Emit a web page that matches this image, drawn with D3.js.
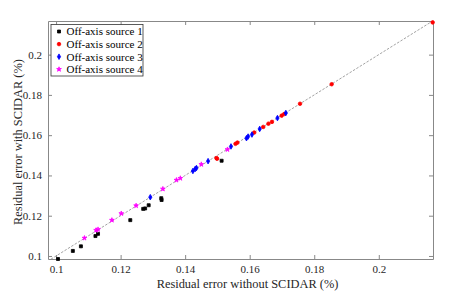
<!DOCTYPE html>
<html>
<head>
<meta charset="utf-8">
<script src="https://cdn.jsdelivr.net/npm/d3@7"></script>
<style>
  body { margin: 0; background: #fff; }
  text { font-family: 'Liberation Serif', 'DejaVu Serif', serif; }
</style>
</head>
<body>
<div id="chart"></div>
<script>
const seriesNames = ['Off-axis source 1', 'Off-axis source 2', 'Off-axis source 3', 'Off-axis source 4']
const seriesColors = ['#000000', '#ff0000', '#0000ff', '#ff00ff']

// [without SCIDAR, with SCIDAR]
const source1 = [
  [0.1006, 0.0985], [0.1052, 0.1025], [0.1077, 0.1048], [0.1122, 0.1099],
  [0.1130, 0.1110], [0.1230, 0.1178], [0.1270, 0.1234], [0.1276, 0.1236],
  [0.1287, 0.1252], [0.1326, 0.1287], [0.1327, 0.1278], [0.1513, 0.1473]
]
const source2 = [
  [0.1497, 0.1486], [0.1499, 0.1483], [0.1556, 0.1557], [0.1562, 0.1563],
  [0.1614, 0.1613], [0.1642, 0.1641], [0.1658, 0.1657], [0.1669, 0.1666],
  [0.1699, 0.1697], [0.1707, 0.1705], [0.1756, 0.1756], [0.1854, 0.1853],
  [0.2167, 0.2160]
]
const source3 = [
  [0.1292, 0.1292], [0.1424, 0.1422], [0.1431, 0.1432], [0.1435, 0.1437],
  [0.1471, 0.1471], [0.1542, 0.1544], [0.1590, 0.1585], [0.1595, 0.1593],
  [0.1607, 0.1603], [0.1631, 0.1631], [0.1686, 0.1685], [0.1712, 0.1710]
]
const source4 = [
  [0.1088, 0.1089], [0.1124, 0.1128], [0.1130, 0.1132], [0.1173, 0.1178],
  [0.1202, 0.1211], [0.1248, 0.1250], [0.1331, 0.1333], [0.1373, 0.1377],
  [0.1385, 0.1386], [0.1450, 0.1455], [0.1531, 0.1529]
]
const tickValues = [0.1, 0.12, 0.14, 0.16, 0.18, 0.2]
const xDomain = [0.0975, 0.2168]
const yDomain = [0.0985, 0.2167]

const margin = { top: 21, left: 48, right: 30, bottom: 34 }
const width = 463 - margin.left - margin.right
const height = 293 - margin.top - margin.bottom

const svg = d3.select('#chart')
  .append('svg')
  .attr('width', 463)
  .attr('height', 293)

const g = svg.append('g')
  .attr('transform', `translate(${margin.left},${margin.top})`)

const x = d3.scaleLinear().domain(xDomain).range([0, width])
const y = d3.scaleLinear().domain(yDomain).range([height, 0])

g.append('clipPath').attr('id', 'clip')
  .append('rect').attr('width', width).attr('height', height)

// y = x reference line
g.append('line')
  .attr('clip-path', 'url(#clip)')
  .attr('x1', x(0.09)).attr('y1', y(0.09))
  .attr('x2', x(0.23)).attr('y2', y(0.23))
  .attr('stroke', '#8a8a8a')
  .attr('stroke-width', 0.8)
  .attr('stroke-dasharray', '2.5,1.5')

const fmt = d => String(+d.toFixed(2))
const tickLen = 4
const axisColor = '#888'

function styleAxis(sel) {
  sel.select('.domain').attr('stroke', axisColor)
  sel.selectAll('.tick line').attr('stroke', axisColor)
  sel.selectAll('.tick text')
    .attr('fill', '#262626')
    .attr('font-size', 11)
    .style('font-family', "'Liberation Serif', serif")
}

g.append('g')
  .attr('transform', `translate(0,${height})`)
  .call(d3.axisBottom(x).tickValues(tickValues).tickFormat(fmt).tickSizeInner(-tickLen).tickSizeOuter(0).tickPadding(6))
  .call(styleAxis)
g.append('g')
  .call(d3.axisTop(x).tickValues(tickValues).tickFormat('').tickSizeInner(-tickLen).tickSizeOuter(0))
  .call(styleAxis)
g.append('g')
  .call(d3.axisLeft(y).tickValues(tickValues).tickFormat(fmt).tickSizeInner(-tickLen).tickSizeOuter(0).tickPadding(6))
  .call(styleAxis)
g.append('g')
  .attr('transform', `translate(${width},0)`)
  .call(d3.axisRight(y).tickValues(tickValues).tickFormat('').tickSizeInner(-tickLen).tickSizeOuter(0))
  .call(styleAxis)

const symbols = [
  d3.symbol().type(d3.symbolSquare).size(9),
  d3.symbol().type(d3.symbolCircle).size(10),
  d3.symbol().type(d3.symbolDiamond).size(9),
  d3.symbol().type(d3.symbolStar).size(7)
]
const allSeries = [source1, source2, source3, source4]

allSeries.forEach(function(data, i) {
  g.append('g')
    .selectAll('path')
    .data(data)
    .enter()
    .append('path')
    .attr('d', symbols[i])
    .attr('transform', d => `translate(${x(d[0])},${y(d[1])})`)
    .attr('fill', seriesColors[i])
    .attr('stroke', seriesColors[i])
    .attr('stroke-width', 0.8)
})

// axis labels
g.append('text')
  .attr('x', width / 2 + 7)
  .attr('y', height + 29)
  .attr('text-anchor', 'middle')
  .attr('font-size', 12.4)
  .attr('fill', '#262626')
  .text('Residual error without SCIDAR (%)')

g.append('text')
  .attr('transform', `translate(${22 - margin.left},${height / 2 + 2})rotate(-90)`)
  .attr('text-anchor', 'middle')
  .attr('font-size', 12.4)
  .attr('fill', '#262626')
  .text('Residual error with SCIDAR (%)')

// legend
const legend = g.append('g').attr('transform', 'translate(3,3.5)')
legend.append('rect')
  .attr('width', 92)
  .attr('height', 51.5)
  .attr('fill', '#fff')
  .attr('stroke', '#333')
  .attr('stroke-width', 0.8)

seriesNames.forEach(function(name, i) {
  const row = legend.append('g').attr('transform', `translate(0,${7 + i * 12.6})`)
  row.append('path')
    .attr('d', symbols[i])
    .attr('transform', 'translate(8,0)')
    .attr('fill', seriesColors[i])
    .attr('stroke', seriesColors[i])
    .attr('stroke-width', 0.8)
  row.append('text')
    .attr('x', 15.5)
    .attr('y', 3.8)
    .attr('font-size', 11)
    .attr('fill', '#000')
    .text(name)
})
</script>
</body>
</html>
